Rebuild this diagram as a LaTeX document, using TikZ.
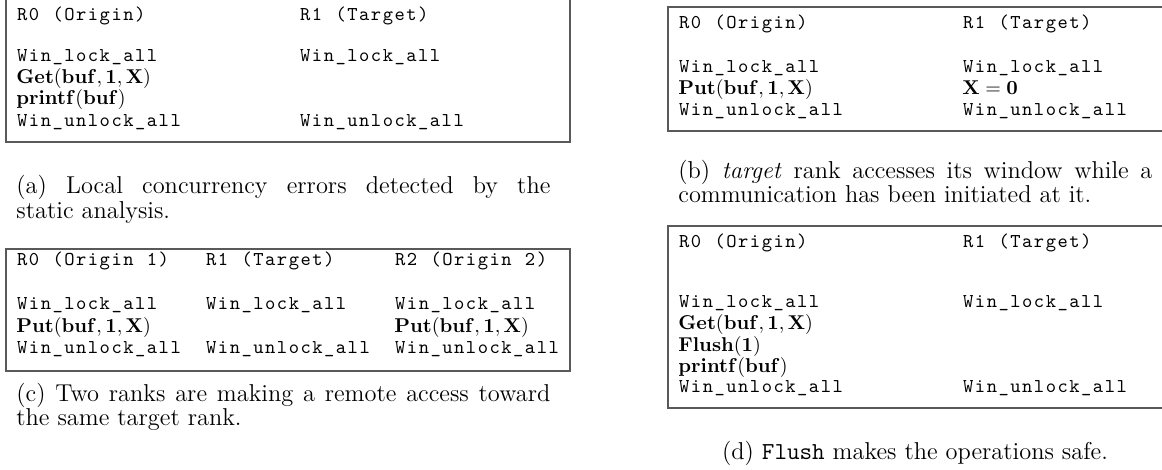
\documentclass[tikz,border=0pt]{standalone}
\ExplSyntaxOn
\NewDocumentCommand \cd { m } { \tl_map_inline:nn {#1} { \makebox[5.9pt][c]{##1} } }
\ExplSyntaxOff
\tikzset{
  frame/.style={draw=black!65, line width=0.65pt},
  codetxt/.style={anchor=base west, inner sep=0pt, font=\ttfamily\fontsize{9.8}{11}\selectfont},
  mthtxt/.style={anchor=base west, inner sep=0pt, font=\fontsize{10.2}{12}\selectfont},
  captxt/.style={anchor=base west, inner sep=0pt, font=\fontsize{12.2}{12.5}\selectfont},
  captxtc/.style={anchor=base, inner sep=0pt, font=\fontsize{12.2}{12.5}\selectfont},
}
\begin{document}
\begin{tikzpicture}[x=0.5pt,y=-0.5pt]
\useasboundingbox (0,0) rectangle (1162,470);
% ---------- (a)
\draw[frame] (6,-2) rectangle (570,142);
\node[codetxt] (a0) at (16,21) {\cd{R0~(Origin)}};
\node[codetxt] (a1) at (299,21) {\cd{R1~(Target)}};
\node[codetxt] (a2) at (16,62) {\cd{Win\_lock\_all}};
\node[codetxt] (a3) at (299,62) {\cd{Win\_lock\_all}};
\node[mthtxt] (a4) at (16,84) {$\mathbf{Get}(\mathbf{buf},\mathbf{1},\mathbf{X})$};
\node[mthtxt] (a5) at (16,105) {$\mathbf{printf}(\mathbf{buf})$};
\node[codetxt] (a6) at (16,127) {\cd{Win\_unlock\_all}};
\node[codetxt] (a7) at (299,127) {\cd{Win\_unlock\_all}};
\node[captxt] (ca1) at (16,194) {\makebox[267pt][s]{(a) Local concurrency errors detected by the}};
\node[captxt] (ca2) at (16,219) {static analysis.};
% ---------- (c)
\draw[frame] (6,249) rectangle (570,371);
\node[codetxt] (c0) at (16,266) {\cd{R0~(Origin~1)}};
\node[codetxt] (c1) at (205,266) {\cd{R1~(Target)}};
\node[codetxt] (c2) at (394,266) {\cd{R2~(Origin~2)}};
\node[codetxt] (c3) at (16,310) {\cd{Win\_lock\_all}};
\node[codetxt] (c4) at (205,310) {\cd{Win\_lock\_all}};
\node[codetxt] (c5) at (394,310) {\cd{Win\_lock\_all}};
\node[mthtxt] (c6) at (16,332) {$\mathbf{Put}(\mathbf{buf},\mathbf{1},\mathbf{X})$};
\node[mthtxt] (c7) at (394,332) {$\mathbf{Put}(\mathbf{buf},\mathbf{1},\mathbf{X})$};
\node[codetxt] (c8) at (16,353) {\cd{Win\_unlock\_all}};
\node[codetxt] (c9) at (205,353) {\cd{Win\_unlock\_all}};
\node[codetxt] (c10) at (394,353) {\cd{Win\_unlock\_all}};
\node[captxt] (cc1) at (16,401) {\makebox[267pt][s]{(c) Two ranks are making a remote access toward}};
\node[captxt] (cc2) at (16,425) {the same target rank.};
% ---------- (b)
\draw[frame] (668,7) rectangle (1232,131);
\node[codetxt] (b0) at (678,29) {\cd{R0~(Origin)}};
\node[codetxt] (b1) at (962,29) {\cd{R1~(Target)}};
\node[codetxt] (b2) at (678,73) {\cd{Win\_lock\_all}};
\node[codetxt] (b3) at (962,73) {\cd{Win\_lock\_all}};
\node[mthtxt] (b4) at (678,95) {$\mathbf{Put}(\mathbf{buf},\mathbf{1},\mathbf{X})$};
\node[mthtxt] (b5) at (962,95) {$\mathbf{X}=\mathbf{0}$};
\node[codetxt] (b6) at (678,116) {\cd{Win\_unlock\_all}};
\node[codetxt] (b7) at (962,116) {\cd{Win\_unlock\_all}};
\node[captxt] (cb1) at (678,179) {\makebox[237pt][s]{(b) \textit{target} rank accesses its window while a}};
\node[captxt] (cb2) at (678,203) {communication has been initiated at it.};
% ---------- (d)
\draw[frame] (668,226) rectangle (1232,408);
\node[codetxt] (d0) at (678,248) {\cd{R0~(Origin)}};
\node[codetxt] (d1) at (962,248) {\cd{R1~(Target)}};
\node[codetxt] (d2) at (678,307) {\cd{Win\_lock\_all}};
\node[codetxt] (d3) at (962,307) {\cd{Win\_lock\_all}};
\node[mthtxt] (d4) at (678,329) {$\mathbf{Get}(\mathbf{buf},\mathbf{1},\mathbf{X})$};
\node[mthtxt] (d5) at (678,351) {$\mathbf{Flush}(\mathbf{1})$};
\node[mthtxt] (d6) at (678,372) {$\mathbf{printf}(\mathbf{buf})$};
\node[codetxt] (d7) at (678,393) {\cd{Win\_unlock\_all}};
\node[codetxt] (d8) at (962,393) {\cd{Win\_unlock\_all}};
\node[captxtc] (cd1) at (915,459) {(d) \texttt{Flush} makes the operations safe.};
\end{tikzpicture}
\end{document}
